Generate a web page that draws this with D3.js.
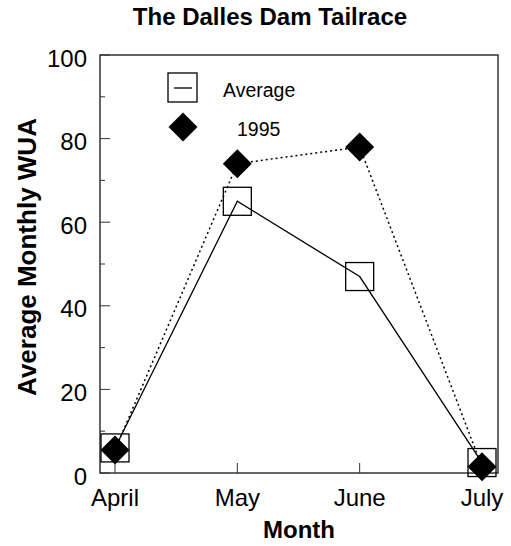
<!DOCTYPE html>
<html lang="en">
<head>
    <meta charset="UTF-8">
    <title>The Dalles Dam Tailrace</title>
    <script src="https://d3js.org/d3.v7.min.js"></script>
    <style>
        body {
            margin: 0;
            background-color: #fff;
            font-family: "Liberation Sans", Arial, sans-serif;
        }
        .tick-label {
            font-size: 24px;
            fill: #000;
        }
        .axis-title {
            font-size: 24px;
            font-weight: bold;
            fill: #000;
        }
        .legend-label {
            font-size: 19.5px;
            fill: #000;
        }
    </style>
</head>
<body>
    <div id="chart"></div>

    <script>
        // data
        const months = ["April", "May", "June", "July"];
        const averageWUA = [6, 65, 47, 2.5];
        const wua1995 = [5.5, 74, 78, 1.5];
        const yTicks = [0, 20, 40, 60, 80, 100];
        const yMinorTicks = [10, 30, 50, 70, 90];

        const width = 511;
        const height = 546;
        const frame = { left: 100, right: 498, top: 55, bottom: 473 };

        const svg = d3.select('#chart')
            .append('svg')
            .attr('width', width)
            .attr('height', height);

        const x = d3.scalePoint()
            .domain(months)
            .range([115, 482]);
        const y = d3.scaleLinear()
            .domain([0, 100])
            .range([frame.bottom, frame.top]);

        // frame
        svg.append('rect')
            .attr('x', frame.left)
            .attr('y', frame.top)
            .attr('width', frame.right - frame.left)
            .attr('height', frame.bottom - frame.top)
            .attr('fill', 'none')
            .attr('stroke', '#333')
            .attr('stroke-width', 1.5);

        // y axis ticks (inward)
        const yAxis = svg.append('g')
            .attr('transform', `translate(${frame.left},0)`);
        yAxis.selectAll('.major')
            .data(yTicks)
            .enter().append('line')
            .attr('x1', 0).attr('x2', 10)
            .attr('y1', d => y(d)).attr('y2', d => y(d))
            .attr('stroke', '#333');
        yAxis.selectAll('.minor')
            .data(yMinorTicks)
            .enter().append('line')
            .attr('x1', 0).attr('x2', 5)
            .attr('y1', d => y(d)).attr('y2', d => y(d))
            .attr('stroke', '#333');
        yAxis.selectAll('text')
            .data(yTicks)
            .enter().append('text')
            .attr('class', 'tick-label')
            .attr('x', -13)
            .attr('y', d => y(d))
            .attr('dy', '0.48em')
            .attr('text-anchor', 'end')
            .text(d => d);

        // x axis ticks (inward)
        const xAxis = svg.append('g')
            .attr('transform', `translate(0,${frame.bottom})`);
        xAxis.selectAll('line')
            .data(months)
            .enter().append('line')
            .attr('x1', d => x(d)).attr('x2', d => x(d))
            .attr('y1', 0).attr('y2', -10)
            .attr('stroke', '#333');
        xAxis.selectAll('text')
            .data(months)
            .enter().append('text')
            .attr('class', 'tick-label')
            .attr('x', d => x(d))
            .attr('y', 33)
            .attr('text-anchor', 'middle')
            .text(d => d);

        // titles
        svg.append('text')
            .attr('class', 'axis-title')
            .attr('x', 270)
            .attr('y', 25)
            .attr('text-anchor', 'middle')
            .text('The Dalles Dam Tailrace');
        svg.append('text')
            .attr('class', 'axis-title')
            .attr('x', 299)
            .attr('y', 538)
            .attr('text-anchor', 'middle')
            .text('Month');
        svg.append('text')
            .attr('class', 'axis-title')
            .attr('font-size', '26px')
            .attr('transform', 'translate(36,257) rotate(-90)')
            .attr('text-anchor', 'middle')
            .style('font-size', '26px')
            .text('Average Monthly WUA');

        const avgPoints = months.map((m, i) => [m, averageWUA[i]]);
        const pts1995 = months.map((m, i) => [m, wua1995[i]]);
        const line = d3.line()
            .x(d => x(d[0]))
            .y(d => y(d[1]));

        const sq = 28;
        const diamond = d3.symbol().type(d3.symbolSquare).size(420);

        // average squares
        svg.selectAll('.avg-box')
            .data(avgPoints)
            .enter().append('rect')
            .attr('class', 'avg-box')
            .attr('x', d => x(d[0]) - sq / 2)
            .attr('y', d => y(d[1]) - sq / 2)
            .attr('width', sq)
            .attr('height', sq)
            .attr('fill', 'none')
            .attr('stroke', '#000')
            .attr('stroke-width', 1.3);

        svg.append('path')
            .datum(avgPoints)
            .attr('d', line)
            .attr('fill', 'none')
            .attr('stroke', '#000')
            .attr('stroke-width', 1.3);

        svg.append('path')
            .datum(pts1995)
            .attr('d', line)
            .attr('fill', 'none')
            .attr('stroke', '#000')
            .attr('stroke-width', 1.5)
            .attr('stroke-dasharray', '2,3');

        svg.selectAll('.d95')
            .data(pts1995)
            .enter().append('path')
            .attr('class', 'd95')
            .attr('d', diamond)
            .attr('transform', d => `translate(${x(d[0])},${y(d[1])}) rotate(45)`)
            .attr('fill', '#000');

        // legend
        const legend = svg.append('g');
        legend.append('rect')
            .attr('x', 168).attr('y', 73)
            .attr('width', 29).attr('height', 29)
            .attr('fill', 'none')
            .attr('stroke', '#000')
            .attr('stroke-width', 1.3);
        legend.append('line')
            .attr('x1', 174).attr('x2', 192)
            .attr('y1', 88).attr('y2', 88)
            .attr('stroke', '#000')
            .attr('stroke-width', 1.3);
        legend.append('text')
            .attr('class', 'legend-label')
            .attr('x', 223).attr('y', 97)
            .text('Average');
        legend.append('path')
            .attr('d', diamond)
            .attr('transform', 'translate(183,127) rotate(45)')
            .attr('fill', '#000');
        legend.append('text')
            .attr('class', 'legend-label')
            .attr('x', 237).attr('y', 136)
            .text('1995');
    </script>
</body>
</html>
